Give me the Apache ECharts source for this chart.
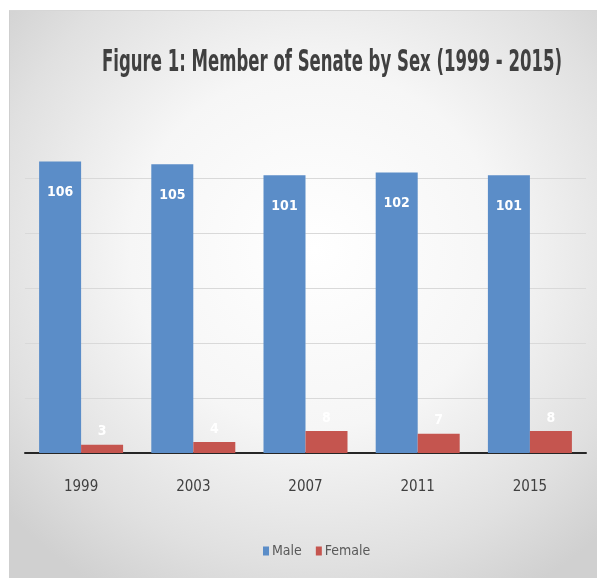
<!DOCTYPE html>
<html>
<head>
<meta charset="utf-8">
<script src="https://cdn.jsdelivr.net/npm/echarts@6/dist/echarts.min.js"></script>
<style>
html,body{margin:0;padding:0;background:#ffffff;}
#frame{position:absolute;left:9px;top:10px;width:588px;height:568px;
 background:radial-gradient(ellipse 70% 70% at 52% 42%, #ffffff 0%, #f6f6f6 45%, #e0e0e0 80%, #d0d0d0 100%);
 border-left:1px solid #cfcfcf;border-top:1px solid #d6d6d6;box-sizing:border-box;}
#chart{position:absolute;left:0;top:0;width:597px;height:578px;}
</style>
</head>
<body>
<div id="frame"></div>
<div id="chart"></div>
<script>
const titleText = 'Figure 1: Member of Senate by Sex (1999 - 2015)';
const categories = ['1999', '2003', '2007', '2011', '2015'];
const maleValues = [106, 105, 101, 102, 101];
const femaleValues = [3, 4, 8, 7, 8];
const seriesNames = ['Male', 'Female'];

const narrow = "'Liberation Sans Narrow', 'DejaVu Sans Condensed', 'Arial Narrow', sans-serif";
const titleFont = "bold 30px 'DejaVu Sans Condensed', 'Liberation Sans', sans-serif";
// horizontal compression of the title so it spans the same width as the reference
const cv = document.createElement('canvas').getContext('2d');
cv.font = titleFont;
const titleScaleX = 460 / cv.measureText(titleText).width;

const chart = echarts.init(document.getElementById('chart'), null, {renderer: 'canvas'});
chart.setOption({
  backgroundColor: 'transparent',
  animation: false,
  graphic: [{
    type: 'text',
    x: 102,
    y: 48,
    scaleX: titleScaleX,
    scaleY: 1,
    style: {text: titleText, font: titleFont, fill: '#404040', textAlign: 'left', textVerticalAlign: 'top'}
  }],
  legend: {
    data: seriesNames,
    left: 258,
    top: 539,
    itemWidth: 6,
    itemHeight: 9,
    itemGap: 14,
    icon: 'rect',
    textStyle: {fontFamily: narrow, fontSize: 14, color: '#595959', padding: [0, 0, 0, -2]}
  },
  grid: {left: 25, right: 11, top: 123, bottom: 125, containLabel: false},
  xAxis: {
    type: 'category',
    data: categories,
    axisLine: {lineStyle: {color: '#262626', width: 2}},
    axisTick: {show: false},
    axisLabel: {fontFamily: narrow, fontSize: 15, color: '#404040', margin: 27}
  },
  yAxis: {
    type: 'value',
    min: 0,
    max: 120,
    interval: 20,
    axisLabel: {show: false},
    axisLine: {show: false},
    axisTick: {show: false},
    splitLine: {show: true, showMaxLine: false, lineStyle: {color: '#d9d9d9', width: 1}}
  },
  series: [
    {
      name: seriesNames[0],
      type: 'bar',
      data: maleValues,
      barWidth: 42,
      barGap: '0%',
      itemStyle: {color: '#5b8dc8'},
      label: {show: true, position: 'insideTop', distance: 24, color: '#ffffff',
        fontFamily: narrow, fontWeight: 'bold', fontSize: 14}
    },
    {
      name: seriesNames[1],
      type: 'bar',
      data: femaleValues,
      barWidth: 42,
      itemStyle: {color: '#c5554f'},
      label: {show: true, position: 'top', distance: 6, color: '#ffffff',
        fontFamily: narrow, fontWeight: 'bold', fontSize: 14}
    }
  ]
});
</script>
</body>
</html>
